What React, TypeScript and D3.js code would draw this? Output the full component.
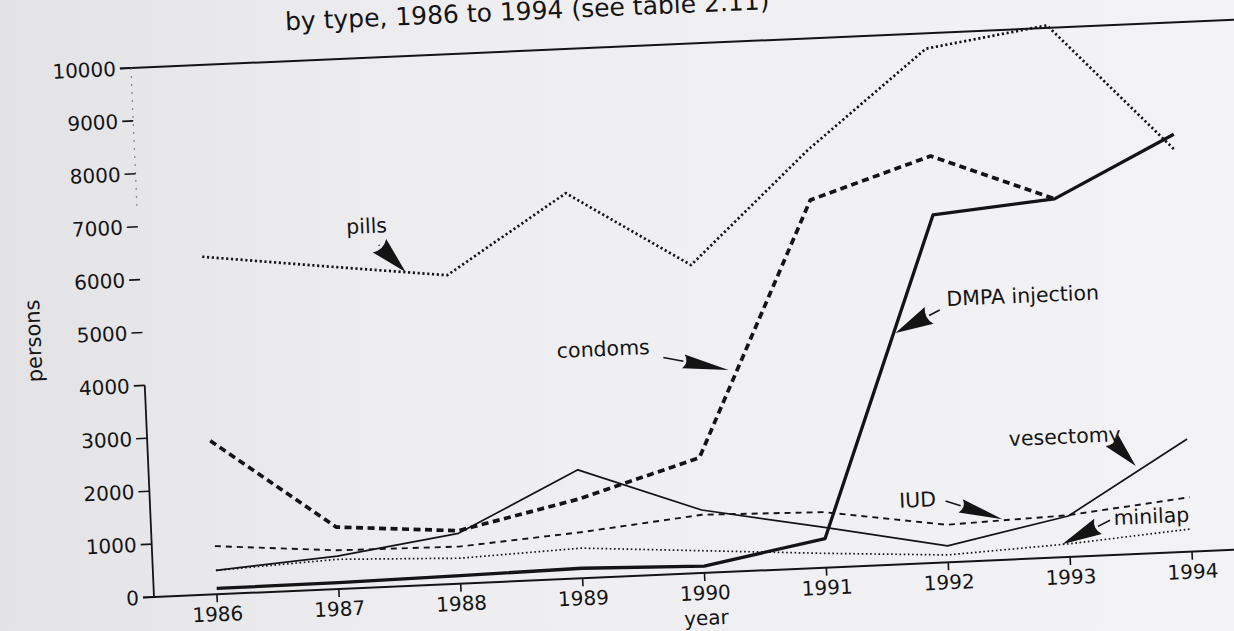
import * as d3 from 'd3';

// values (persons per year)
const years = [1986, 1987, 1988, 1989, 1990, 1991, 1992, 1993, 1994];
const pills = [6380, 6100, 5830, 7280, 5820, 7900, 9710, 10050, 7600];
const condoms = [2900, 1170, 1000, 1500, 2180, 6950, 7680, 6770, null];
const dmpaInjection = [110, 120, 150, 190, 130, 550, 6570, 6770, 7890];
const vesectomy = [450, 620, 950, 2050, 1190, 760, 310, 775, 2130];
const iud = [910, 730, 700, 870, 1100, 1050, 710, 790, 1030];
const minilap = [450, 560, 480, 570, 420, 270, 140, 250, 430];
const yTickValues = [0, 1000, 2000, 3000, 4000, 5000, 6000, 7000, 8000, 9000, 10000];
const xTickLabels = ['1986', '1987', '1988', '1989', '1990', '1991', '1992', '1993', '1994'];

const title = 'by type, 1986 to 1994 (see table 2.11)';

const W = 1234;
const H = 631;
const originX = 154;
const originY = 597;
const tilt = -2.5; // the page was scanned a little crooked

const FONT = '"DejaVu Sans", "Liberation Sans", sans-serif';
const INK = '#141414';

const x = d3.scaleLinear().domain([1986, 1994]).range([63, 1039]);
const y = d3.scaleLinear().domain([0, 10000]).range([0, -529.5]);

type Pt = [number, number | null];

const lineGen = d3
  .line<Pt>()
  .defined((d) => d[1] != null)
  .x((d) => x(d[0]))
  .y((d) => y(d[1] as number));

const series = [
  { name: 'pills', values: pills, width: 2.7, dash: '2.2 2.6' },
  { name: 'condoms', values: condoms, width: 3.7, dash: '7 4.5' },
  { name: 'DMPA injection', values: dmpaInjection, width: 3.3, dash: null },
  { name: 'vesectomy', values: vesectomy, width: 1.7, dash: null },
  { name: 'IUD', values: iud, width: 1.9, dash: '6 5' },
  { name: 'minilap', values: minilap, width: 1.7, dash: '1.6 2.6' }
];

// label anchor and arrow (tail -> tip) in data units
const notes = [
  { text: 'pills', at: [1987.19, 6690], tail: [1987.45, 6457], tip: [1987.66, 5926], head: 37, half: 9.5 },
  { text: 'condoms', at: [1988.87, 4177], tail: [1989.74, 4100], tip: [1990.27, 3809], head: 46, half: 7 },
  { text: 'DMPA injection', at: [1992.08, 4837], tail: [1992.02, 4769], tip: [1991.65, 4368], head: 38, half: 9.5 },
  { text: 'vesectomy', at: [1992.54, 2145], tail: [1993.38, 2174], tip: [1993.57, 1664], head: 35, half: 8.5 },
  { text: 'IUD', at: [1991.62, 1071], tail: [1992.0, 1160], tip: [1992.46, 767], head: 44, half: 7 },
  { text: 'minilap', at: [1993.37, 567], tail: [1993.34, 659], tip: [1992.94, 246], head: 40, half: 8.5 }
];

function Arrow({ tail, tip, head, half }: { tail: number[]; tip: number[]; head: number; half: number }) {
  const x0 = x(tail[0]);
  const y0 = y(tail[1]);
  const x1 = x(tip[0]);
  const y1 = y(tip[1]);
  const len = Math.hypot(x1 - x0, y1 - y0);
  const ux = (x1 - x0) / len;
  const uy = (y1 - y0) / len;
  const h = Math.min(head, len);
  const bx = x1 - ux * h;
  const by = y1 - uy * h;
  const px = -uy * half;
  const py = ux * half;
  return (
    <g>
      {len > h + 1 && <line x1={x0} y1={y0} x2={bx} y2={by} stroke={INK} strokeWidth={1.6} />}
      <path
        d={`M${x1},${y1} L${bx + px},${by + py} Q${bx + ux * 6},${by + uy * 6} ${bx - px},${by - py} Z`}
        fill={INK}
      />
    </g>
  );
}

export default function App() {
  return (
    <svg
      width={W}
      height={H}
      style={{ position: 'absolute', left: 0, top: 0, display: 'block' }}
      fontFamily={FONT}
    >
      <defs>
        <linearGradient id="paper" x1="0" y1="0" x2="1" y2="0">
          <stop offset="0" stopColor="#e3e3e6" />
          <stop offset="0.35" stopColor="#eeedf0" />
          <stop offset="1" stopColor="#f3f2f4" />
        </linearGradient>
      </defs>
      <rect width={W} height={H} fill="url(#paper)" />

      <g transform={`translate(${originX},${originY}) rotate(${tilt})`} fill={INK}>
        <text x={x(1986) + 93} y={y(10000) - 31} fontSize={25}>
          {title}
        </text>

        {/* frame: top line at 10000 and the x axis */}
        <line x1={-11} x2={1120} y1={y(10000)} y2={y(10000)} stroke={INK} strokeWidth={2} />
        <line x1={-11} x2={1120} y1={0} y2={0} stroke={INK} strokeWidth={2} />

        {/* y axis: solid at the bottom, faded by the scan further up */}
        <line x1={0} x2={0} y1={y(0)} y2={y(4000)} stroke={INK} strokeWidth={1.8} />
        <line x1={0} x2={0} y1={y(10000)} y2={y(7300)} stroke="#8a8a8e" strokeWidth={1.3} strokeDasharray="2 6" />

        {yTickValues.map((v) => (
          <g key={v} transform={`translate(0,${y(v)})`}>
            <line x1={-11} x2={0} stroke={INK} strokeWidth={1.6} />
            <text x={-15} dy="0.36em" textAnchor="end" fontSize={20}>
              {v}
            </text>
          </g>
        ))}

        {years.map((yr, i) => (
          <g key={yr} transform={`translate(${x(yr)},0)`}>
            <line y1={0} y2={8} stroke={INK} strokeWidth={1.6} />
            <text y={27} textAnchor="middle" fontSize={20}>
              {xTickLabels[i]}
            </text>
          </g>
        ))}

        <text x={x(1990)} y={52} textAnchor="middle" fontSize={20}>
          year
        </text>
        <text transform={`translate(-102,${y(4930)}) rotate(-90)`} textAnchor="middle" fontSize={21}>
          persons
        </text>

        {series.map((s) => (
          <path
            key={s.name}
            d={lineGen(years.map((yr, i) => [yr, s.values[i]] as Pt)) ?? ''}
            fill="none"
            stroke={INK}
            strokeWidth={s.width}
            strokeDasharray={s.dash ?? undefined}
            strokeLinejoin="round"
          />
        ))}

        {notes.map((n) => (
          <g key={n.text}>
            <text x={x(n.at[0])} y={y(n.at[1])} fontSize={20.5}>
              {n.text}
            </text>
            <Arrow tail={n.tail} tip={n.tip} head={n.head} half={n.half} />
          </g>
        ))}
      </g>
    </svg>
  );
}
